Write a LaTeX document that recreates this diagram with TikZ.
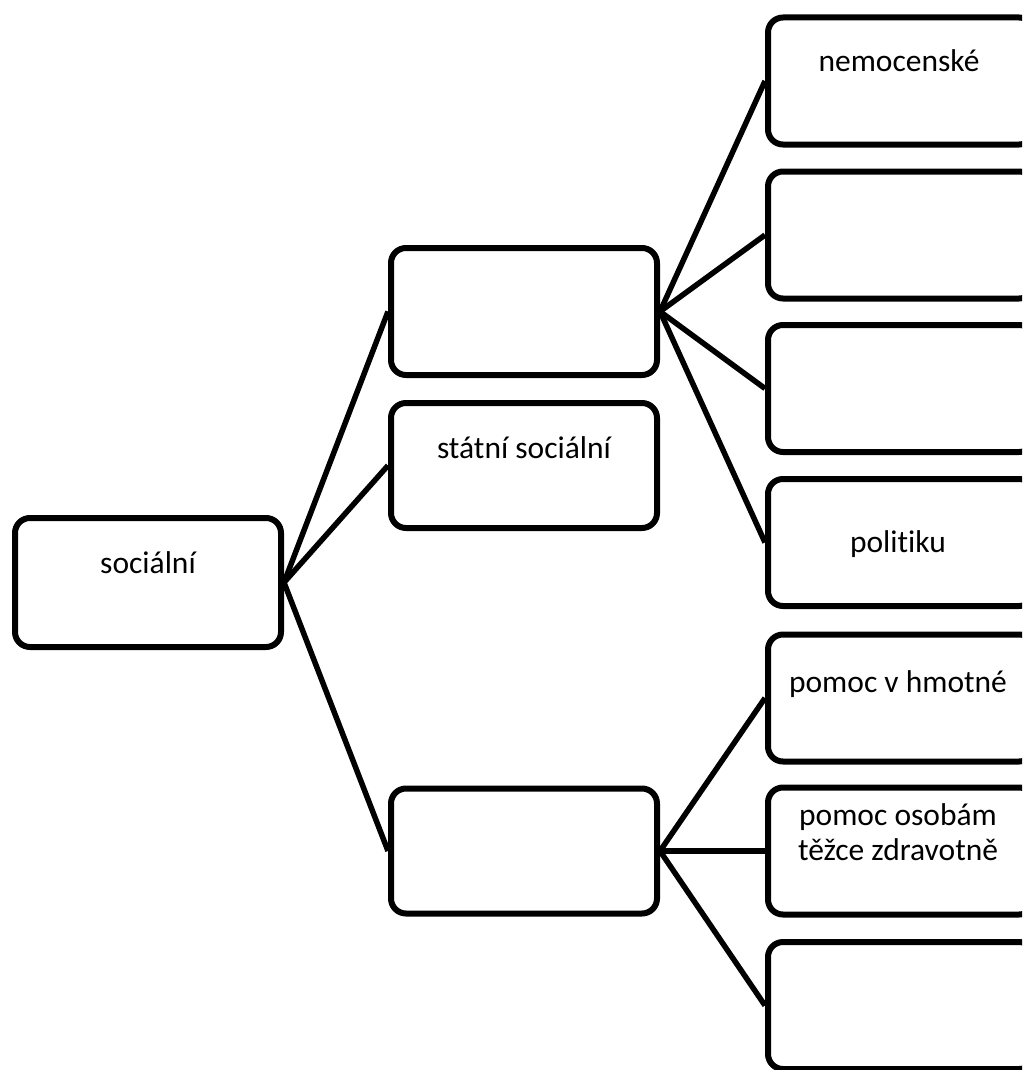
\documentclass[tikz,border=0pt]{standalone}
\usepackage{fontspec}
\setmainfont{Carlito}[Ligatures=NoCommon]
\begin{document}
\begin{tikzpicture}[x=1pt,y=-1pt,
  box/.style={draw=black,line width=6pt,rounded corners=15pt,fill=white,
    minimum width=266pt,minimum height=127pt,inner sep=0pt},
  lbl/.style={anchor=base,font=\fontsize{31.5}{35}\selectfont,inner sep=0pt,align=center},
  conn/.style={draw=black,line width=5.5pt}]
\useasboundingbox (0,0) rectangle (1022,1070);
\clip (0,0) rectangle (1022,1070);
% root
\node[box,minimum height=129pt] (root) at (148,582.5) {};
% level 2
\node[box] (a) at (524,311.5) {};
\node[box,minimum height=125pt] (b) at (524,465.5) {};
\node[box,minimum height=125pt] (c) at (524,851) {};
% level 3
\node[box] (r1) at (901,81) {};
\node[box] (r2) at (901,235) {};
\node[box] (r3) at (901,388.5) {};
\node[box] (r4) at (901,542.5) {};
\node[box] (r5) at (901,698) {};
\node[box] (r6) at (901,851) {};
\node[box] (r7) at (901,1005.5) {};
% connectors
\draw[conn] (root.east) -- (a.west);
\draw[conn] (root.east) -- (b.west);
\draw[conn] (root.east) -- (c.west);
\foreach \t in {r1,r2,r3,r4} \draw[conn] (a.east) -- (\t.west);
\foreach \t in {r5,r6,r7} \draw[conn] (c.east) -- (\t.west);
% texts
\node[lbl] (troot) at (148,573) {sociální};
\node[lbl] (tb) at (524,458) {státní sociální};
\node[lbl] (t1) at (899,72) {nemocenské};
\node[lbl] (t4) at (898,552) {politiku};
\node[lbl] (t5) at (898,692) {pomoc v hmotné};
\node[lbl] (t6a) at (898,825) {pomoc osobám};
\node[lbl] (t6b) at (898,860) {těžce zdravotně};
\end{tikzpicture}
\end{document}
